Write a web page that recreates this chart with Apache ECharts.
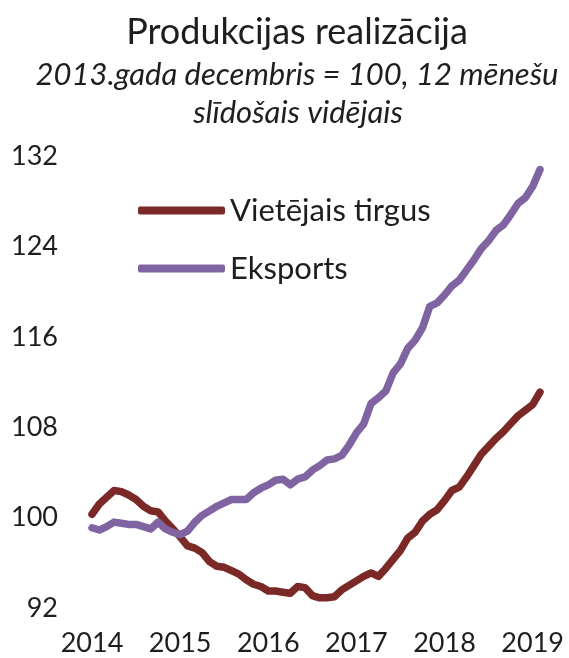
<!DOCTYPE html>
<html>
<head>
<meta charset="utf-8">
<script src="https://cdn.jsdelivr.net/npm/echarts@6/dist/echarts.min.js"></script>
<style>
  html, body { margin: 0; padding: 0; background: #fff; }
  #chart { width: 569px; height: 658px; }
</style>
</head>
<body>
<div id="chart"></div>
<script>
// dati: 2014.01 - 2019.02, 12 mēnešu slīdošais vidējais
var years = ['2014', '2015', '2016', '2017', '2018', '2019'];
var lastYearMonths = 2;

var vietejais = [
  100.3, 101.2, 101.8, 102.4, 102.3, 102.0, 101.6, 101.0, 100.6, 100.5, 99.7, 99.0,
  98.3, 97.5, 97.3, 96.9, 96.1, 95.7, 95.6, 95.3, 95.0, 94.5, 94.1, 93.9,
  93.5, 93.5, 93.4, 93.3, 93.9, 93.8, 93.1, 92.9, 92.9, 93.0, 93.6, 94.0,
  94.4, 94.8, 95.1, 94.8, 95.5, 96.3, 97.1, 98.2, 98.7, 99.7, 100.3, 100.7,
  101.5, 102.4, 102.7, 103.6, 104.6, 105.6, 106.3, 107.0, 107.6, 108.3, 109.0, 109.5,
  110.0, 111.1
];

var eksports = [
  99.1, 98.9, 99.2, 99.6, 99.5, 99.4, 99.4, 99.2, 99.0, 99.6, 99.0, 98.7,
  98.5, 98.8, 99.6, 100.2, 100.6, 101.0, 101.3, 101.6, 101.6, 101.6, 102.2, 102.6,
  102.9, 103.3, 103.4, 102.9, 103.4, 103.6, 104.2, 104.6, 105.1, 105.2, 105.5, 106.4,
  107.5, 108.3, 110.1, 110.6, 111.2, 112.8, 113.6, 115.0, 115.7, 116.8, 118.7, 119.0,
  119.7, 120.5, 121.0, 121.9, 122.8, 123.8, 124.5, 125.4, 125.9, 126.8, 127.8, 128.3,
  129.3, 130.8
];

// mēnešu kategorijas no gadiem
var months = [];
years.forEach(function (y, i) {
  var n = (i === years.length - 1) ? lastYearMonths : 12;
  for (var m = 1; m <= n; m++) {
    months.push(y + '-' + (m < 10 ? '0' + m : m));
  }
});

var FONT = 'Lato';
var TXT = '#1e1e1e';

var chart = echarts.init(document.getElementById('chart'));

var option = {
  animation: false,
  backgroundColor: '#fff',
  textStyle: { fontFamily: FONT, color: TXT },
  graphic: [
    {
      type: 'text', x: 297, y: 32,
      style: { text: 'Produkcijas realizācija', font: '36px ' + FONT, fill: TXT, textAlign: 'center', textVerticalAlign: 'middle' }
    },
    {
      type: 'text', x: 297, y: 75,
      style: { text: '2013.gada decembris = 100, 12 mēnešu', font: 'italic 31px ' + FONT, fill: TXT, textAlign: 'center', textVerticalAlign: 'middle' }
    },
    {
      type: 'text', x: 298, y: 113,
      style: { text: 'slīdošais vidējais', font: 'italic 31px ' + FONT, fill: TXT, textAlign: 'center', textVerticalAlign: 'middle' }
    }
  ],
  legend: {
    orient: 'vertical',
    left: 133,
    top: 190,
    itemWidth: 87,
    itemHeight: 8,
    itemGap: 27,
    icon: 'roundRect',
    textStyle: { fontFamily: FONT, fontSize: 31, color: TXT },
    data: ['Vietējais tirgus', 'Eksports']
  },
  grid: { left: 92, right: 29, top: 156, bottom: 50 },
  xAxis: {
    type: 'category',
    data: months,
    boundaryGap: false,
    axisLine: { show: false },
    axisTick: { show: false },
    splitLine: { show: false },
    axisLabel: {
      interval: 11,
      margin: 22,
      fontFamily: FONT,
      fontSize: 27,
      color: TXT,
      formatter: function (v) { return v.slice(0, 4); }
    }
  },
  yAxis: {
    type: 'value',
    min: 92,
    max: 132,
    interval: 8,
    axisLine: { show: false },
    axisTick: { show: false },
    splitLine: { show: false },
    axisLabel: { margin: 34, fontFamily: FONT, fontSize: 27, color: TXT }
  },
  series: [
    {
      name: 'Vietējais tirgus',
      type: 'line',
      data: vietejais,
      symbol: 'none',
      color: '#7a2926',
      lineStyle: { width: 7.5, color: '#7a2926', cap: 'round', join: 'round' }
    },
    {
      name: 'Eksports',
      type: 'line',
      data: eksports,
      symbol: 'none',
      color: '#8064a2',
      lineStyle: { width: 7.5, color: '#8064a2', cap: 'round', join: 'round' }
    }
  ]
};

chart.setOption(option);
</script>
</body>
</html>
